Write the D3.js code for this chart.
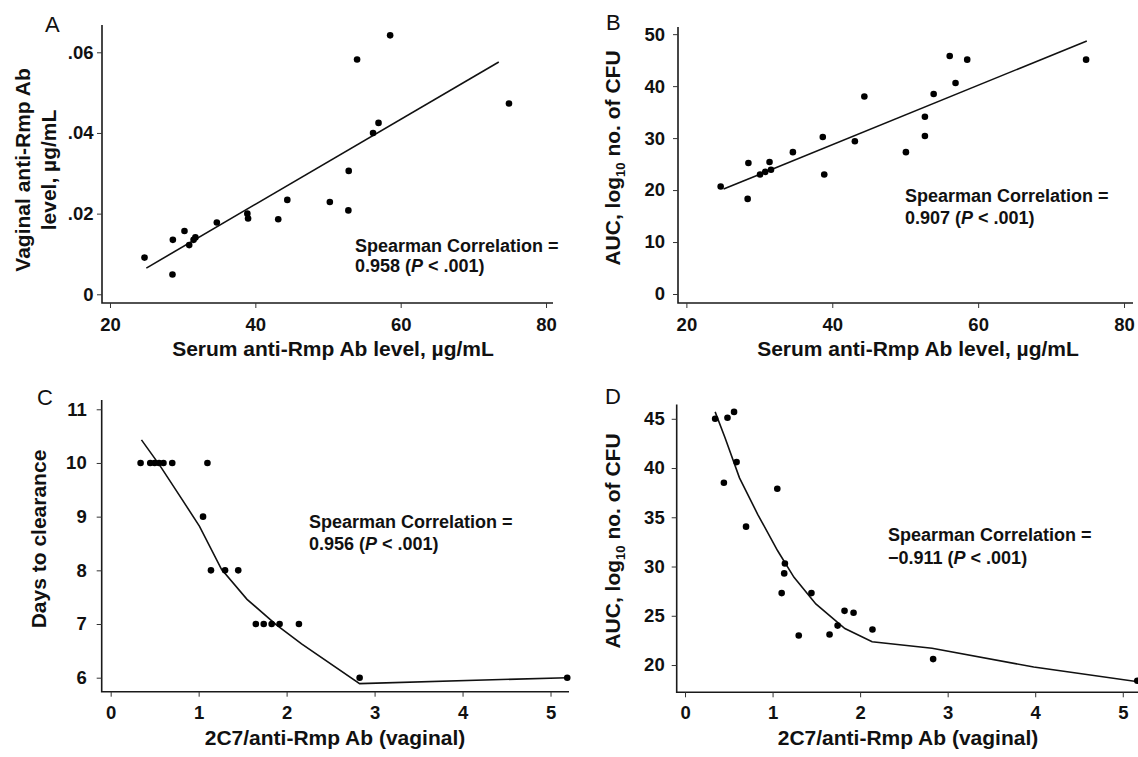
<!doctype html>
<html lang="en">
  <head>
    <meta charset="UTF-8" />
    <title>Anti-Rmp antibody correlations</title>
    <script src="https://d3js.org/d3.v7.min.js"></script>
    <style>
      body {
        margin: 0;
        padding: 0;
        background-color: #ffffff;
      }

      svg text {
        font-family: 'Liberation Sans', Arial, sans-serif;
        fill: #111111;
      }

      .tick text {
        font-size: 18.5px;
        font-weight: bold;
      }

      .axis-title {
        font-size: 21px;
        font-weight: bold;
      }

      .panel-letter {
        font-size: 22px;
      }

      .stat-text {
        font-size: 18px;
        font-weight: bold;
      }
    </style>
  </head>
  <body>
    <div id="chart"></div>

    <script>
      // Panel A: serum vs vaginal anti-Rmp Ab
      const aSerum = [24.75, 28.65, 28.6, 30.25, 30.9, 31.5, 31.75, 34.7, 38.9, 39.0, 43.15, 44.4, 50.25, 52.85, 52.8, 54.0, 56.2, 56.95, 58.55, 74.9]
      const aVaginal = [0.0091, 0.0135, 0.0049, 0.0157, 0.0122, 0.0135, 0.0141, 0.0178, 0.02, 0.0188, 0.0186, 0.0234, 0.0229, 0.0306, 0.0208, 0.0582, 0.04, 0.0425, 0.0642, 0.0473]
      const aFitX = [25.0, 73.5]
      const aFitY = [0.0065, 0.0576]

      // Panel B: serum vs AUC
      const bSerum = [24.7, 28.5, 28.4, 30.1, 30.8, 31.4, 31.6, 34.6, 38.7, 38.9, 43.1, 44.4, 50.1, 52.7, 52.7, 53.9, 56.1, 56.9, 58.5, 74.8]
      const bAuc = [20.7, 25.2, 18.3, 23.0, 23.5, 25.4, 23.9, 27.3, 30.2, 23.0, 29.4, 38.0, 27.3, 34.1, 30.4, 38.5, 45.8, 40.6, 45.1, 45.1]
      const bFitX = [25.1, 74.9]
      const bFitY = [20.2, 48.7]

      // Panel C: ratio vs days to clearance
      const cRatio = [0.34, 0.45, 0.5, 0.55, 0.6, 0.7, 1.1, 1.05, 1.14, 1.3, 1.45, 1.65, 1.74, 1.83, 1.92, 2.14, 2.83, 5.19]
      const cDays = [10, 10, 10, 10, 10, 10, 10, 9, 8, 8, 8, 7, 7, 7, 7, 7, 6, 6]
      const cFitX = [0.35, 0.56, 0.8, 1.01, 1.26, 1.55, 1.88, 2.17, 2.83, 5.19]
      const cFitY = [10.43, 9.95, 9.35, 8.82, 8.02, 7.46, 6.99, 6.63, 5.89, 6.0]

      // Panel D: ratio vs AUC
      const dRatio = [0.344, 0.485, 0.56, 0.589, 0.444, 0.697, 1.054, 1.141, 1.133, 1.104, 1.444, 1.299, 1.651, 1.743, 1.822, 1.925, 2.141, 2.834, 5.166]
      const dAuc = [45.0, 45.1, 45.7, 40.6, 38.5, 34.05, 37.9, 30.3, 29.3, 27.3, 27.3, 23.0, 23.1, 24.0, 25.5, 25.3, 23.6, 20.6, 18.4]
      const dFitX = [0.344, 0.456, 0.622, 0.83, 1.058, 1.245, 1.494, 1.826, 2.137, 2.822, 3.983, 5.178]
      const dFitY = [45.7, 43.1, 39.0, 35.3, 31.6, 28.9, 26.2, 23.7, 22.36, 21.7, 19.8, 18.3]

      // Tick values
      const serumTicks = [20, 40, 60, 80]
      const vaginalTicks = [0, 0.02, 0.04, 0.06]
      const aucTicksB = [0, 10, 20, 30, 40, 50]
      const ratioTicks = [0, 1, 2, 3, 4, 5]
      const dayTicks = [6, 7, 8, 9, 10, 11]
      const aucTicksD = [20, 25, 30, 35, 40, 45]

      const svg = d3.select('#chart').append('svg').attr('width', 1138).attr('height', 757)

      const plain = (d) => String(d)

      const panels = [
        {
          letter: 'A',
          letterPos: [45, 32],
          xs: aSerum,
          ys: aVaginal,
          fitX: aFitX,
          fitY: aFitY,
          xDomain: [18.9, 80.96],
          xRange: [102, 553],
          yDomain: [-0.00216, 0.06677],
          yRange: [303, 25],
          xTicks: serumTicks,
          yTicks: vaginalTicks,
          yFormat: (d) => (d === 0 ? '0' : d3.format('.2f')(d).replace(/^0/, '')),
          xPad: 10,
          yPad: 3.5,
          xTitle: 'Serum anti-Rmp Ab level, \u00b5g/mL',
          xTitlePos: [333, 356],
          yTitle: ['Vaginal anti-Rmp Ab', 'level, \u00b5g/mL'],
          yTitleX: [30, 56],
          yTitleY: 170,
          stat: ['0.958'],
          statPos: [355, 252, 272],
        },
        {
          letter: 'B',
          letterPos: [606, 30],
          xs: bSerum,
          ys: bAuc,
          fitX: bFitX,
          fitY: bFitY,
          xDomain: [18.85, 81.23],
          xRange: [678, 1133],
          yDomain: [-1.73, 51.38],
          yRange: [303, 27],
          xTicks: serumTicks,
          yTicks: aucTicksB,
          yFormat: plain,
          xPad: 10,
          yPad: 8,
          xTitle: 'Serum anti-Rmp Ab level, \u00b5g/mL',
          xTitlePos: [918, 356],
          auc: true,
          yTitleX: [620],
          yTitleY: 158,
          stat: ['0.907'],
          statPos: [905, 202, 224],
        },
        {
          letter: 'C',
          letterPos: [37, 405],
          xs: cRatio,
          ys: cDays,
          fitX: cFitX,
          fitY: cFitY,
          xDomain: [-0.102, 5.21],
          xRange: [101.7, 569],
          yDomain: [5.739, 11.173],
          yRange: [691.7, 400],
          xTicks: ratioTicks,
          yTicks: dayTicks,
          yFormat: plain,
          xPad: 9,
          yPad: 10,
          xTitle: '2C7/anti-Rmp Ab (vaginal)',
          xTitlePos: [335, 745],
          yTitle: ['Days to clearance'],
          yTitleX: [46],
          yTitleY: 539,
          stat: ['0.956'],
          statPos: [309, 528, 550],
        },
        {
          letter: 'D',
          letterPos: [605, 404],
          xs: dRatio,
          ys: dAuc,
          fitX: dFitX,
          fitY: dFitY,
          xDomain: [-0.095, 5.174],
          xRange: [676.7, 1138],
          yDomain: [17.23, 46.45],
          yRange: [692.3, 404.5],
          xTicks: ratioTicks,
          yTicks: aucTicksD,
          yFormat: plain,
          xPad: 9,
          yPad: 7,
          xTitle: '2C7/anti-Rmp Ab (vaginal)',
          xTitlePos: [908, 745],
          auc: true,
          yTitleX: [620],
          yTitleY: 541,
          stat: ['\u22120.911'],
          statPos: [888, 541, 564],
        },
      ]

      function drawPanel(p) {
        const x = d3.scaleLinear().domain(p.xDomain).range(p.xRange)
        const y = d3.scaleLinear().domain(p.yDomain).range(p.yRange)
        const g = svg.append('g')

        // L-shaped frame
        g.append('path')
          .attr('d', `M${p.xRange[0]},${p.yRange[1]}V${p.yRange[0]}H${p.xRange[1]}`)
          .attr('fill', 'none')
          .attr('stroke', '#1a1a1a')
          .attr('stroke-width', 1.6)

        g.append('g')
          .attr('transform', `translate(0,${p.yRange[0]})`)
          .call(d3.axisBottom(x).tickValues(p.xTicks).tickFormat(plain).tickSize(5).tickPadding(p.xPad))
          .call((a) => a.select('.domain').remove())
          .call((a) => a.selectAll('.tick line').attr('stroke', '#333'))

        g.append('g')
          .attr('transform', `translate(${p.xRange[0]},0)`)
          .call(d3.axisLeft(y).tickValues(p.yTicks).tickFormat(p.yFormat).tickSize(5).tickPadding(p.yPad))
          .call((a) => a.select('.domain').remove())
          .call((a) => a.selectAll('.tick line').attr('stroke', '#333'))

        g.selectAll('.tick text').attr('fill', '#111')

        // fitted line
        const fit = p.fitX.map((v, i) => [v, p.fitY[i]])
        g.append('path')
          .datum(fit)
          .attr('fill', 'none')
          .attr('stroke', '#111')
          .attr('stroke-width', 1.6)
          .attr('d', d3.line().x((d) => x(d[0])).y((d) => y(d[1])))

        // points
        g.selectAll('circle')
          .data(p.xs.map((v, i) => [v, p.ys[i]]))
          .join('circle')
          .attr('cx', (d) => x(d[0]))
          .attr('cy', (d) => y(d[1]))
          .attr('r', 3.3)
          .attr('fill', '#000')

        // panel letter
        g.append('text')
          .attr('class', 'panel-letter')
          .attr('x', p.letterPos[0])
          .attr('y', p.letterPos[1])
          .text(p.letter)

        // x axis title
        g.append('text')
          .attr('class', 'axis-title')
          .attr('x', p.xTitlePos[0])
          .attr('y', p.xTitlePos[1])
          .attr('text-anchor', 'middle')
          .text(p.xTitle)

        // y axis title
        if (p.auc) {
          const t = g.append('text')
            .attr('class', 'axis-title')
            .attr('text-anchor', 'middle')
            .attr('transform', `translate(${p.yTitleX[0]},${p.yTitleY}) rotate(-90)`)
          t.append('tspan').text('AUC, log')
          t.append('tspan').attr('font-size', '13px').attr('dy', 5).text('10')
          t.append('tspan').attr('dy', -5).text(' no. of CFU')
        } else {
          p.yTitle.forEach((line, i) => {
            g.append('text')
              .attr('class', 'axis-title')
              .attr('text-anchor', 'middle')
              .attr('transform', `translate(${p.yTitleX[i]},${p.yTitleY}) rotate(-90)`)
              .text(line)
          })
        }

        // correlation annotation
        g.append('text')
          .attr('class', 'stat-text')
          .attr('x', p.statPos[0])
          .attr('y', p.statPos[1])
          .text('Spearman Correlation =')
        const s = g.append('text')
          .attr('class', 'stat-text')
          .attr('x', p.statPos[0])
          .attr('y', p.statPos[2])
        s.append('tspan').text(`${p.stat[0]} (`)
        s.append('tspan').attr('font-style', 'italic').text('P')
        s.append('tspan').text(' < .001)')
      }

      panels.forEach(drawPanel)
    </script>
  </body>
</html>
